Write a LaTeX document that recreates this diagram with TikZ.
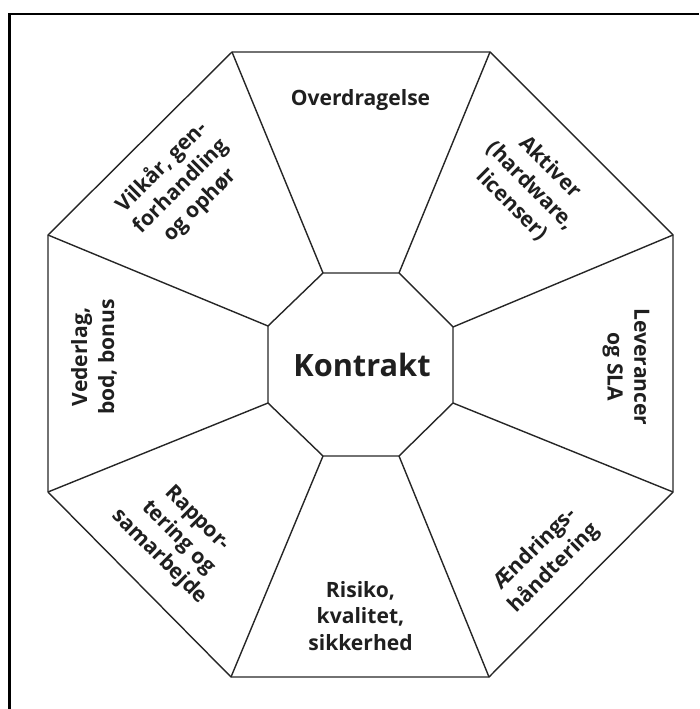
\documentclass[tikz,border=0pt]{standalone}
\usepackage{fontspec}
\setmainfont{Open Sans}
\usetikzlibrary{calc}
\tikzset{%
  every field/.style={
    align=center,
    text=black!88,
    font=\fontsize{12}{15.3}\selectfont\bfseries,
    inner sep=0pt
  },
  octline/.style={
    draw=black!85,
    line width=0.8pt,
    line join=miter
  },
}

\begin{document}
\begin{tikzpicture}[x=0.02cm,y=-0.02cm]
  \useasboundingbox (0,0) rectangle (699,709);
  % frame
  \draw[line width=1.15pt] (9.5,709) -- (9.5,14) -- (699,14);
  % outer and inner corners
  \coordinate (o1) at (232,52);  \coordinate (i1) at (323,273);
  \coordinate (o2) at (490,52);  \coordinate (i2) at (399,273);
  \coordinate (o3) at (673,235); \coordinate (i3) at (453,327);
  \coordinate (o4) at (673,492); \coordinate (i4) at (453,403);
  \coordinate (o5) at (489,677); \coordinate (i5) at (399,456);
  \coordinate (o6) at (231,677); \coordinate (i6) at (323,456);
  \coordinate (o7) at (48,492);  \coordinate (i7) at (268,403);
  \coordinate (o8) at (48,235);  \coordinate (i8) at (268,326);
  \draw[octline] (o1) -- (o2) -- (o3) -- (o4) -- (o5) -- (o6) -- (o7) -- (o8) -- cycle;
  \draw[octline] (i1) -- (i2) -- (i3) -- (i4) -- (i5) -- (i6) -- (i7) -- (i8) -- cycle;
  \foreach \k in {1,...,8}
    \draw[octline] (i\k) -- (o\k);
  % fields
  \node[every field,font=\fontsize{17.5}{21}\selectfont\bfseries,anchor=base] (kontrakt) at (362,376) {Kontrakt};
  \node[every field,anchor=base] (overdragelse) at (360.5,106) {Overdragelse};
  \node[every field,rotate=-45] (aktiver) at (531,186) {Aktiver\\(hardware,\\licenser)};
  \node[every field,rotate=-90] (leverancer) at (626,367) {Leverancer\\og SLA};
  \node[every field,rotate=45] (aendring) at (545,559) {Ændrings-\\håndtering};
  \node[every field] (risiko) at (360.5,616) {Risiko,\\kvalitet,\\sikkerhed};
  \node[every field,rotate=-45] (rapport) at (178,538) {Rappor-\\tering og\\samarbejde};
  \node[every field,rotate=90] (vederlag) at (94,357) {Vederlag,\\bod, bonus};
  \node[every field,rotate=45] (vilkaar) at (181,186) {Vilkår, gen-\\forhandling\\og ophør};
\end{tikzpicture}
\end{document}
